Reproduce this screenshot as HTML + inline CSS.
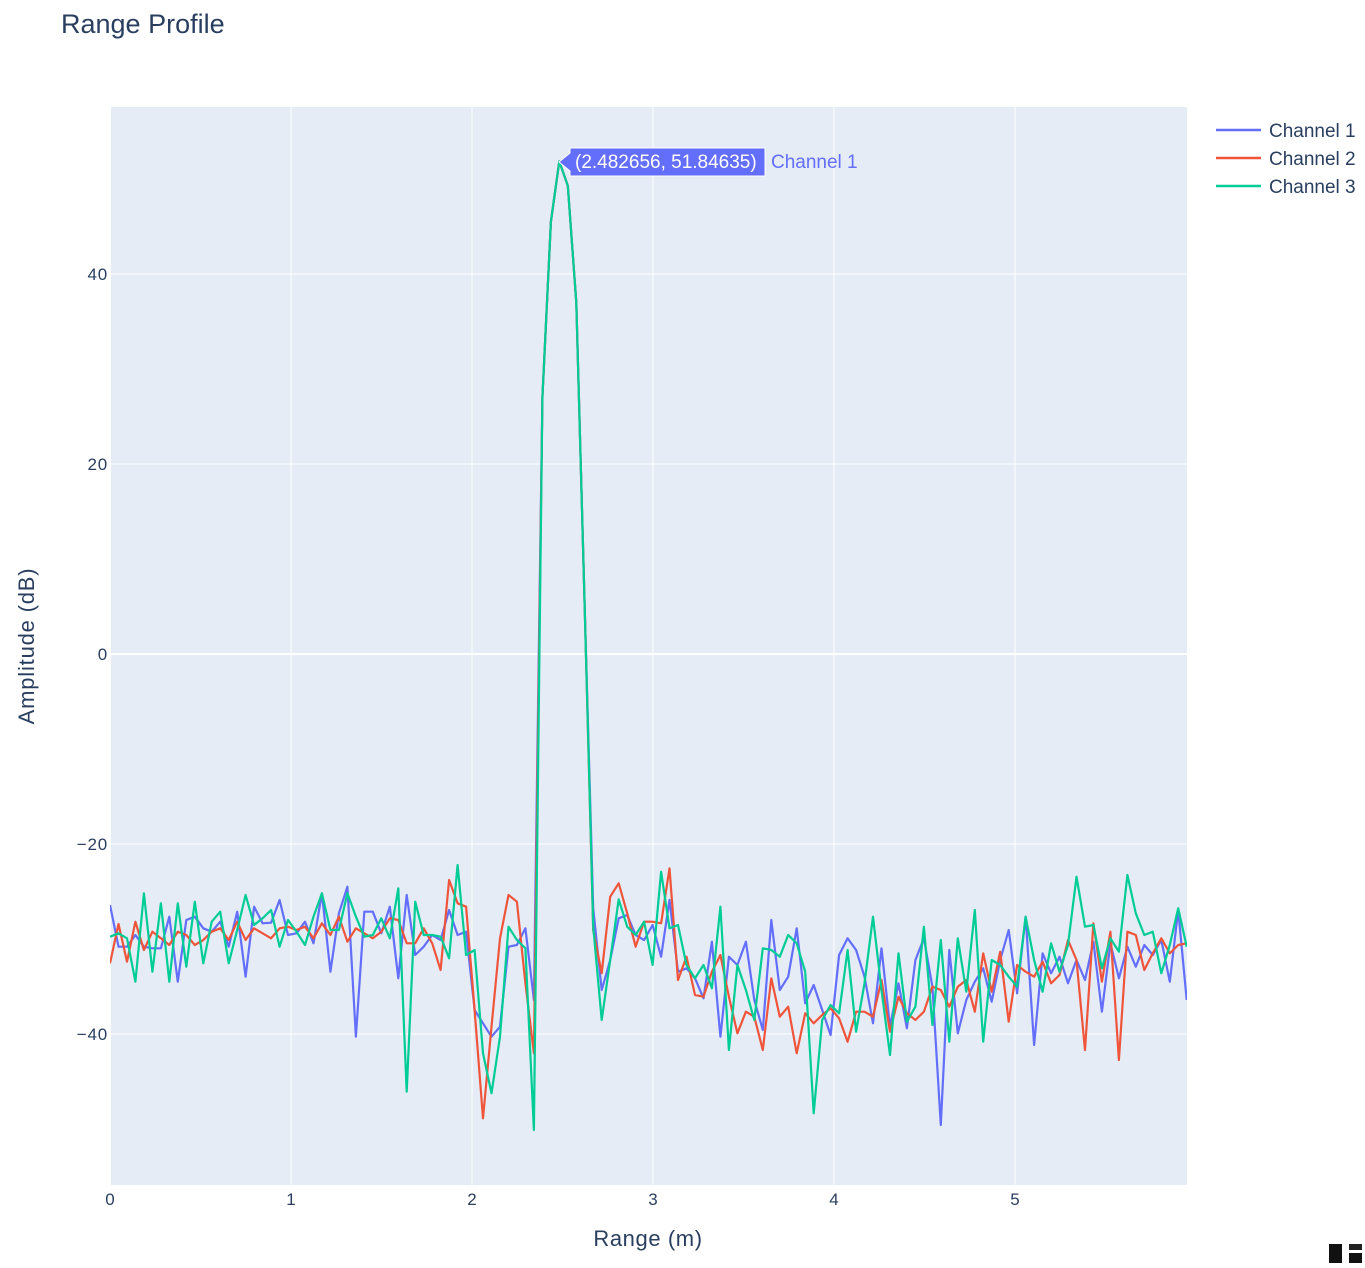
<!DOCTYPE html>
<html><head><meta charset="utf-8"><style>
html,body{margin:0;padding:0;background:#fff;}
svg text{font-family:"Liberation Sans",sans-serif;}
</style></head><body>
<svg id="s" width="1365" height="1263" xmlns="http://www.w3.org/2000/svg">
<rect x="0" y="0" width="1365" height="1263" fill="#fff"/>
<rect x="110" y="107" width="1077" height="1078" fill="#e5ecf6"/>
<g stroke="#fff" stroke-width="1">
<line x1="291" y1="107" x2="291" y2="1185"/><line x1="472" y1="107" x2="472" y2="1185"/>
<line x1="653" y1="107" x2="653" y2="1185"/><line x1="834" y1="107" x2="834" y2="1185"/>
<line x1="1015" y1="107" x2="1015" y2="1185"/>
<line x1="110" y1="274" x2="1187" y2="274"/><line x1="110" y1="464" x2="1187" y2="464"/>
<line x1="110" y1="844" x2="1187" y2="844"/><line x1="110" y1="1034" x2="1187" y2="1034"/>
</g>
<line x1="110" y1="654" x2="1187" y2="654" stroke="#fff" stroke-width="2"/>
<line x1="110" y1="107" x2="110" y2="1185" stroke="#fff" stroke-width="2"/>
<defs><clipPath id="c"><rect x="110" y="107" width="1077" height="1078"/></clipPath></defs>
<g id="lines" clip-path="url(#c)" fill="none" stroke-width="2.2" stroke-linejoin="round"></g>
<g font-size="17" fill="#2a3f5f" text-anchor="end" letter-spacing="0.8">
<text x="108" y="280">40</text><text x="108" y="470">20</text><text x="108" y="660">0</text>
<text x="108" y="850">−20</text><text x="108" y="1040">−40</text>
</g>
<g font-size="17" fill="#2a3f5f" text-anchor="middle">
<text x="110" y="1205">0</text><text x="291" y="1205">1</text><text x="472" y="1205">2</text>
<text x="653" y="1205">3</text><text x="834" y="1205">4</text><text x="1015" y="1205">5</text>
</g>
<text x="61" y="33" font-size="27" fill="#2a3f5f">Range Profile</text>
<text x="648" y="1246" font-size="22" fill="#2a3f5f" text-anchor="middle" letter-spacing="0.6">Range (m)</text>
<text transform="translate(34,646) rotate(-90)" font-size="22" fill="#2a3f5f" text-anchor="middle" letter-spacing="0.8">Amplitude (dB)</text>
<g font-size="19" fill="#2a3f5f">
<line x1="1216" y1="130" x2="1261" y2="130" stroke="#636efa" stroke-width="2.5"/><text x="1269" y="137">Channel 1</text>
<line x1="1216" y1="158" x2="1261" y2="158" stroke="#EF553B" stroke-width="2.5"/><text x="1269" y="165">Channel 2</text>
<line x1="1216" y1="186" x2="1261" y2="186" stroke="#00cc96" stroke-width="2.5"/><text x="1269" y="193">Channel 3</text>
</g>
<path d="M559,162 L570,153 L570,148 L765,148 L765,176 L570,176 L570,171 Z" fill="#636efa" stroke="#fff" stroke-width="1"/>
<text x="575" y="168" font-size="19" fill="#fff">(2.482656, 51.84635)</text>
<text x="771" y="168" font-size="19" fill="#636efa">Channel 1</text>
<rect x="1329" y="1244" width="13" height="19" fill="#111"/>
<rect x="1349" y="1244" width="13" height="6" fill="#222"/>
<rect x="1349" y="1253" width="13" height="10" fill="#111"/>
</svg>
<script>
function z1(a){return a.map(v=>850+v/3);}
var b1=[165,290,290,255,290,295,295,200,395,210,200,235,245,215,290,185,380,170,220,218,150,255,250,215,280,130,365,190,110,560,185,185,250,170,385,135,315,290,255,270,180,255,245,480,520,560,530,290,285,235,450];
var r1=[340,222,335,215,300,245,265,285,245,255,285,270,245,235,270,215,270,235,250,265,235,230,240,230,265,220,255,200,275,235,250,265,245,205,210,280,280,235,280,360,90,160,170,480,805,530,265,135,155,400,610];
var g1=[260,250,265,395,130,365,160,395,160,350,155,340,215,185,340,240,135,225,205,180,290,210,245,285,200,130,240,240,130,200,260,255,205,265,115,725,155,255,255,260,325,45,315,300,610,730,560,230,270,295,840];
var peak=[397.5,221.7,161.4,185.7,302.5,611];
var b2=[175,420,330,205,195,255,270,225,320,150,365,355,385,445,275,560,320,345,275,450,540,210,420,380,235,460,405,480,555,315,265,300,380,520,295,530,400,535,330,265,410,825,300,550,450,395,355,455,330,240,430,200,585,310,370,320,400,330,390,275,485,280,385,290,350,285,315,270,395,180,450];
var r2=[240,370,140,100,190,290,215,215,220,55,390,320,435,440,365,315,440,550,485,500,600,385,500,470,610,490,520,495,475,505,575,485,485,500,390,545,440,490,510,485,410,420,470,410,390,485,310,425,305,515,345,365,380,335,400,375,270,330,600,220,395,245,630,245,255,360,310,265,310,285,280];
var g2=[230,510,330,148,230,255,215,345,65,235,225,345,385,345,415,170,600,345,420,510,295,300,320,255,280,365,790,510,465,490,300,545,400,200,420,615,310,515,470,230,525,270,575,265,425,180,575,330,345,380,410,200,330,425,280,365,285,80,230,225,355,265,305,75,190,255,245,370,285,175,290];
function build(a,b){return z1(a).concat(peak).concat(z1(b));}
var S=[[build(b1,b2),"#636efa"],[build(r1,r2),"#EF553B"],[build(g1,g2),"#00cc96"]];
var g=document.getElementById("lines"),ns="http://www.w3.org/2000/svg";
S.forEach(function(s){var y=s[0];
 var pts=y.map(function(v,i){return (110+i*8.478).toFixed(1)+","+v.toFixed(1);}).join(" ");
 var p=document.createElementNS(ns,"polyline");p.setAttribute("points",pts);p.setAttribute("stroke",s[1]);g.appendChild(p);});
</script>
</body></html>
